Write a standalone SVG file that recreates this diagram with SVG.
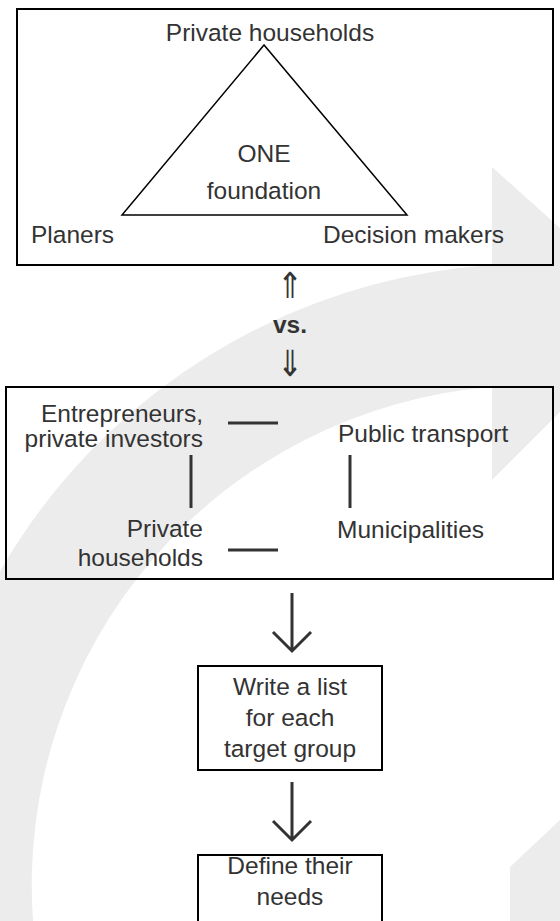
<svg xmlns="http://www.w3.org/2000/svg" width="560" height="921" viewBox="0 0 560 921">
  <style>
    .t{font-family:"Liberation Sans",Arial,sans-serif;font-size:24.5px;fill:#333}
    .c{text-anchor:middle}
    .r{text-anchor:end}
    .b{font-weight:bold}
    .sym{font-family:"DejaVu Sans",sans-serif;font-size:36px;fill:#333;text-anchor:middle}
    .box{fill:none;stroke:#000;stroke-width:2}
    .tri{fill:none;stroke:#000;stroke-width:1.5;stroke-linejoin:miter}
    .dash{stroke:#333;stroke-width:3;fill:none}
    .arr{fill:none;stroke:#333;stroke-width:3}
    .wm{fill:#ececec}
  </style>
  <rect width="560" height="921" fill="#fff"/>

  <!-- faint circular-arrow backdrop -->
  <g id="backdrop">
    <path class="wm" d="M492,265 A615,615 0 0 0 -81,921 L33,921 A500,500 0 0 1 492,387 Z"/>
    <polygon class="wm" points="492,167 657,315 492,480"/>
    <polygon class="wm" points="510,867 560,820 560,921 510,921"/>
  </g>

  <!-- top panel: one foundation triangle -->
  <g id="foundation">
    <rect class="box" x="17" y="9" width="536" height="256"/>
    <polygon class="tri" points="264,45 122,215 407,215"/>
    <text class="t c" x="270" y="41">Private households</text>
    <text class="t c" x="264" y="162">ONE</text>
    <text class="t c" x="264" y="199">foundation</text>
    <text class="t" x="31" y="243">Planers</text>
    <text class="t" x="323" y="243">Decision makers</text>
  </g>

  <!-- versus marker -->
  <g id="versus">
    <text class="sym" transform="translate(290,298) scale(0.85,1)">⇑</text>
    <text class="t c b" x="290" y="333">vs.</text>
    <text class="sym" transform="translate(290,376) scale(0.85,1)">⇓</text>
  </g>

  <!-- middle panel: target groups -->
  <g id="groups">
    <rect class="box" x="6" y="387" width="547" height="192"/>
    <text class="t r" x="203" y="422">Entrepreneurs,</text>
    <text class="t r" x="203" y="447">private investors</text>
    <text class="t" x="338" y="442">Public transport</text>
    <text class="t r" x="203" y="537">Private</text>
    <text class="t r" x="203" y="566">households</text>
    <text class="t" x="337" y="538">Municipalities</text>
  </g>

  <g id="step-list">
    <rect class="box" x="198" y="666" width="184" height="104"/>
    <text class="t c" x="290" y="695">Write a list</text>
    <text class="t c" x="290" y="726">for each</text>
    <text class="t c" x="290" y="757">target group</text>
  </g>

  <g id="step-needs">
    <rect class="box" x="198" y="855" width="184" height="80"/>
    <text class="t c" x="290" y="874">Define their</text>
    <text class="t c" x="290" y="905">needs</text>
  </g>

  <!-- connectors -->
  <g id="connectors">
    <line class="dash" x1="228" y1="423" x2="278" y2="423"/>
    <line class="dash" x1="228" y1="550" x2="278" y2="550"/>
    <line class="dash" x1="191" y1="455" x2="191" y2="508"/>
    <line class="dash" x1="350" y1="455" x2="350" y2="508"/>
    <path class="arr" d="M292,593 V651 M273,632 L292,651 L311,632"/>
    <path class="arr" d="M292,782 V840 M273,821 L292,840 L311,821"/>
  </g>
</svg>
